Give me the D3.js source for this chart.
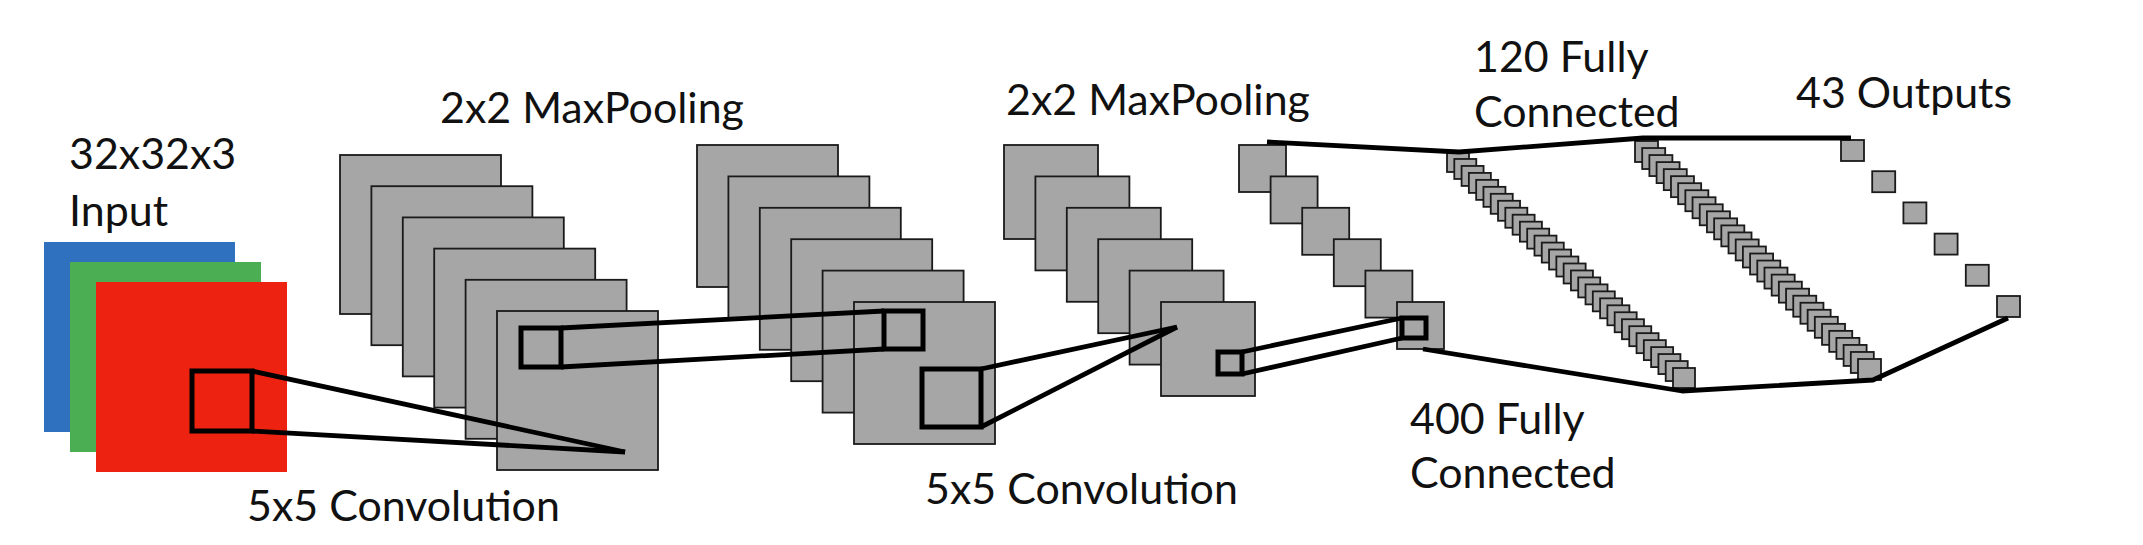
<!DOCTYPE html>
<html>
<head>
<meta charset="utf-8">
<script src="https://cdn.jsdelivr.net/npm/d3@7"></script>
<style>
  html, body { margin: 0; padding: 0; background: #fff; }
  svg { display: block; }
  .label { font-family: Lato, 'Open Sans', sans-serif; font-size: 43px; fill: #111; }
</style>
</head>
<body>
<svg id="chart"></svg>
<script>
// --- what the diagram shows ---
const channels = ['blue', 'green', 'red']
const stages = ['conv1', 'pool1', 'conv2', 'pool2', 'fc400', 'fc120', 'out43']
const stageUnits = [6, 6, 6, 6, 32, 32, 6] // squares drawn per stage
const labelTexts = [
  '32x32x3', 'Input', '2x2 MaxPooling', '5x5 Convolution', '2x2 MaxPooling',
  '5x5 Convolution', '120 Fully', 'Connected', '43 Outputs', '400 Fully', 'Connected'
]

// --- layout (pixels) ---
const W = 2143, H = 545
const inputBox = { first: [44, 242], last: [96, 282], w: 191, h: 190 }
const stageBox = [
  { first: [340, 155], last: [497, 311], w: 161, h: 159 },
  { first: [697, 145], last: [854, 302], w: 141, h: 142 },
  { first: [1004, 145], last: [1161, 302], w: 94, h: 94 },
  { first: [1239, 145], last: [1397, 302], w: 47, h: 47 },
  { first: [1447, 152], last: [1673, 368], w: 22, h: 20 },
  { first: [1635, 141], last: [1858, 359], w: 23, h: 21 },
  { first: [1841, 140], last: [1997, 296], w: 23, h: 21 }
]
const kernels = [
  { x: 192, y: 371, w: 60, h: 60 },
  { x: 521, y: 328, w: 40, h: 39 },
  { x: 884, y: 311, w: 39, h: 38 },
  { x: 922, y: 369, w: 59, h: 58 },
  { x: 1218, y: 352, w: 24, h: 22 },
  { x: 1402, y: 318, w: 24, h: 20 }
]
const apex = [[625, 452], [1177, 327]]
const topPath = [[1267, 142], [1459, 152], [1643, 138], [1851, 138]]
const bottomPath = [[1423, 349], [1682, 391], [1873, 380], [2008, 318]]
const labelAnchors = [
  [69, 169], [69, 226], [440, 123], [247, 521], [1006, 115],
  [925, 504], [1474, 72], [1474, 127], [1796, 108], [1410, 434], [1410, 488]
]

const channelColor = d3.scaleOrdinal()
  .domain(channels)
  .range(['#2f70bf', '#4bae53', '#ee2211'])

const svg = d3.select('#chart').attr('width', W).attr('height', H)

// spread n squares between the first and last corner of a box
function squares (box, n) {
  const sx = d3.scaleLinear().domain([0, n - 1]).range([box.first[0], box.last[0]])
  const sy = d3.scaleLinear().domain([0, n - 1]).range([box.first[1], box.last[1]])
  return d3.range(n).map(i => ({ x: sx(i), y: sy(i), w: box.w, h: box.h }))
}

svg.append('g')
  .selectAll('rect')
  .data(squares(inputBox, channels.length).map((d, i) => Object.assign({ c: channels[i] }, d)))
  .join('rect')
  .attr('x', d => d.x).attr('y', d => d.y)
  .attr('width', d => d.w).attr('height', d => d.h)
  .attr('fill', d => channelColor(d.c))

svg.append('g')
  .selectAll('g')
  .data(stages)
  .join('g')
  .attr('class', d => d)
  .selectAll('rect')
  .data((d, i) => squares(stageBox[i], stageUnits[i]))
  .join('rect')
  .attr('x', d => d.x).attr('y', d => d.y)
  .attr('width', d => d.w).attr('height', d => d.h)
  .attr('fill', '#a6a6a6')
  .attr('stroke', '#1a1a1a')
  .attr('stroke-width', 1.8)

svg.append('g')
  .selectAll('rect')
  .data(kernels)
  .join('rect')
  .attr('x', d => d.x).attr('y', d => d.y)
  .attr('width', d => d.w).attr('height', d => d.h)
  .attr('fill', 'none')
  .attr('stroke', '#000')
  .attr('stroke-width', 5)

// kernel edges joined to an apex or to the next kernel
const rightTop = k => [k.x + k.w, k.y]
const rightBottom = k => [k.x + k.w, k.y + k.h]
const leftTop = k => [k.x, k.y]
const leftBottom = k => [k.x, k.y + k.h]
const links = [
  [rightTop(kernels[0]), apex[0]], [rightBottom(kernels[0]), apex[0]],
  [rightTop(kernels[1]), leftTop(kernels[2])], [rightBottom(kernels[1]), leftBottom(kernels[2])],
  [rightTop(kernels[3]), apex[1]], [rightBottom(kernels[3]), apex[1]],
  [rightTop(kernels[4]), leftTop(kernels[5])], [rightBottom(kernels[4]), leftBottom(kernels[5])],
  topPath, bottomPath
]

svg.append('g')
  .selectAll('path')
  .data(links)
  .join('path')
  .attr('d', d3.line())
  .attr('fill', 'none')
  .attr('stroke', '#000')
  .attr('stroke-width', 4.8)
  .attr('stroke-linejoin', 'round')

const text = svg.append('g')
  .selectAll('text')
  .data(labelTexts)
  .join('text')
  .attr('class', 'label')
  .attr('x', (d, i) => labelAnchors[i][0])
  .attr('y', (d, i) => labelAnchors[i][1])
  .text(d => d)

// fit the font so "5x5 Convolution" spans its width in the original
const probe = text.filter((d, i) => i === 3).node().getComputedTextLength()
text.style('font-size', (43 * 313 / probe) + 'px')
</script>
</body>
</html>
